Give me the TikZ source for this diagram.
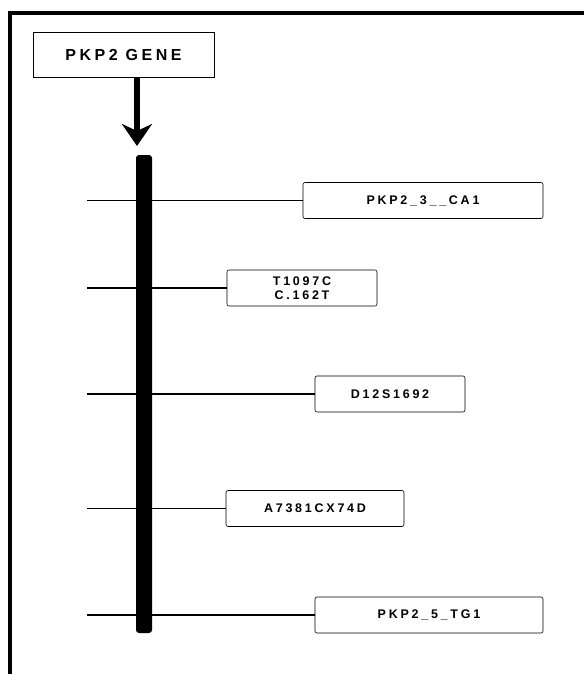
\documentclass[tikz,border=0pt]{standalone}
\usepackage{fontspec}
\setmainfont{Liberation Sans}
\newfontfamily\markfont[LetterSpace=22]{Liberation Sans}
\usetikzlibrary{arrows.meta, positioning}

\begin{document}
\begin{tikzpicture}[x=1pt, y=-1pt,
    every node/.style={font=\markfont\bfseries},
    gene/.style={rectangle, draw=black, thick, minimum width=181pt, minimum height=45pt, inner sep=0pt, font=\markfont\bfseries\fontsize{16}{18}\selectfont},
    marker/.style={rectangle, rounded corners=2pt, draw=black, semithick, minimum height=36pt, inner sep=0pt, align=center, font=\markfont\bfseries\fontsize{12.5}{14}\selectfont},
    link/.style={line width=1.8pt},
    frame/.style={line width=4.5pt}
]
\useasboundingbox (0,0) rectangle (584,674);

% Frame (top and left only)
\draw[frame] (8,13) -- (584,13);
\draw[frame] (10,11) -- (10,674);

% Gene
\node[gene] (gene) at (123.5,54.5) {PKP2 GENE};
\coordinate (tip) at (137,146);
\draw[line width=6pt, -{Stealth[width=30pt, length=22pt, inset=7pt]}] (gene.south -| tip) -- (tip);

% Markers
\node[marker, minimum width=240pt] (m1) at (423,200.5) {PKP2\_3\_\_CA1};
\node[marker, minimum width=150pt] (m2) at (302,288) {T1097C\\C.162T};
\node[marker, minimum width=150pt] (m3) at (390,394) {D12S1692};
\node[marker, minimum width=178pt] (m4) at (315,508.5) {A7381CX74D};
\node[marker, minimum width=228pt] (m5) at (429,615) {PKP2\_5\_TG1};

% Links to the chromosome
\foreach \m in {m1,m2,m3,m4,m5}{
  \coordinate (l\m) at (87,0 |- \m.west);
  \draw[link] (l\m) -- (\m.west);
}

% Chromosome bar
\node[fill=black, rounded corners=3pt, minimum width=16pt, minimum height=478pt, inner sep=0pt] (bar) at (144,394) {};
\end{tikzpicture}
\end{document}
